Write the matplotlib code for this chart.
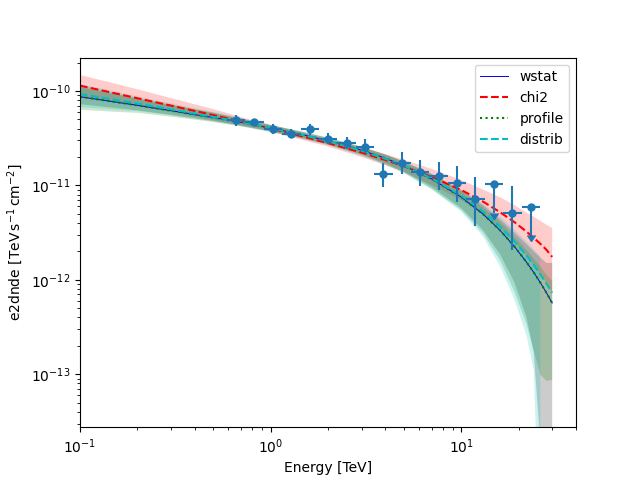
import numpy as np
import matplotlib
matplotlib.use("Agg")
import matplotlib.pyplot as plt

# ---- flux points ----
e_ref = [0.659, 0.823, 1.028, 1.285, 1.605, 2.004, 2.503, 3.127, 3.906, 4.879,
         6.095, 7.613, 9.51, 11.88, 14.84, 18.54, 23.15]
e_min = [0.590, 0.736, 0.920, 1.150, 1.436, 1.793, 2.240, 2.798, 3.495, 4.366,
         5.454, 6.812, 8.509, 10.63, 13.28, 16.59, 20.71]
e_max = [0.737, 0.920, 1.149, 1.436, 1.794, 2.240, 2.797, 3.495, 4.365, 5.453,
         6.812, 8.508, 10.63, 13.28, 16.59, 20.72, 25.87]
flux = [4.93e-11, 4.65e-11, 3.96e-11, 3.51e-11, 3.93e-11, 3.12e-11, 2.79e-11,
        2.53e-11, 1.31e-11, 1.71e-11, 1.40e-11, 1.27e-11, 1.05e-11, 7.14e-12,
        1.03e-11, 5.06e-12, 5.94e-12]
flux_hi = [5.57e-11, 5.05e-11, 4.44e-11, 3.96e-11, 4.44e-11, 3.56e-11, 3.28e-11,
           3.08e-11, 1.71e-11, 2.28e-11, 1.86e-11, 1.76e-11, 1.62e-11, 1.24e-11,
           1.03e-11, 9.86e-12, 5.94e-12]
flux_lo = [4.28e-11, 4.28e-11, 3.47e-11, 3.18e-11, 3.42e-11, 2.72e-11, 2.41e-11,
           2.19e-11, 9.68e-12, 1.31e-11, 9.93e-12, 8.93e-12, 6.62e-12, 3.74e-12,
           5.15e-12, 2.07e-12, 2.97e-12]
is_ul = [False] * 14 + [True, False, True]

# ---- model curves ----
energy = [0.1, 0.15, 0.2, 0.3, 0.5, 0.7, 1, 1.5, 2, 3, 4, 5, 7, 10, 13, 16, 19,
          22, 24, 26, 28, 30]

wstat = [8.70e-11, 7.70e-11, 7.06e-11, 6.20e-11, 5.24e-11, 4.65e-11, 4.06e-11,
         3.41e-11, 2.97e-11, 2.36e-11, 1.94e-11, 1.62e-11, 1.17e-11, 7.53e-12,
         4.98e-12, 3.34e-12, 2.26e-12, 1.54e-12, 1.20e-12, 9.34e-13, 7.28e-13, 5.69e-13]
chi2 = [1.14e-10, 9.53e-11, 8.39e-11, 7.01e-11, 5.56e-11, 4.75e-11, 4.01e-11,
        3.27e-11, 2.81e-11, 2.23e-11, 1.86e-11, 1.60e-11, 1.23e-11, 8.94e-12,
        6.75e-12, 5.20e-12, 4.09e-12, 3.24e-12, 2.79e-12, 2.41e-12, 2.08e-12, 1.75e-12]
profile = [8.70e-11, 7.70e-11, 7.06e-11, 6.20e-11, 5.24e-11, 4.65e-11, 4.06e-11,
           3.41e-11, 2.97e-11, 2.36e-11, 1.94e-11, 1.62e-11, 1.17e-11, 7.53e-12,
           4.98e-12, 3.34e-12, 2.26e-12, 1.54e-12, 1.20e-12, 9.34e-13, 7.28e-13, 5.69e-13]
distrib = [9.29e-11, 8.12e-11, 7.37e-11, 6.40e-11, 5.33e-11, 4.69e-11, 4.06e-11,
           3.39e-11, 2.94e-11, 2.33e-11, 1.92e-11, 1.62e-11, 1.19e-11, 7.81e-12,
           5.31e-12, 3.67e-12, 2.56e-12, 1.81e-12, 1.44e-12, 1.14e-12, 9.14e-13, 7.30e-13]

# ---- error bands: upper = model * up, lower = model / down ----
nan = float("nan")
wstat_up = [1.267, 1.215, 1.172, 1.144, 1.116, 1.089, 1.076, 1.076, 1.076, 1.089, 1.097,
            1.102, 1.130, 1.186, 1.245, 1.308, 1.407, 1.551, 1.669, 1.840, 2.079, 2.653]
wstat_down = [1.201, 1.158, 1.130, 1.108, 1.089, 1.081, 1.076, 1.081, 1.089, 1.102, 1.130,
              1.158, 1.215, 1.308, 1.477, 1.796, 2.407, 3.824, 7.039, 50, 1e4, 1e4]
chi2_up = [1.298, 1.270, 1.245, 1.201, 1.158, 1.116, 1.089, 1.089, 1.089, 1.130, 1.152,
           1.172, 1.215, 1.276, 1.340, 1.442, 1.514, 1.589, 1.669, 1.753, 1.840, 2.029]
chi2_down = [1.308, 1.261, 1.215, 1.172, 1.130, 1.102, 1.089, 1.089, 1.089, 1.116, 1.135,
             1.158, 1.215, 1.276, 1.373, 1.477, 1.629, 1.796, 1.932, 2.079, 2.237, 2.407]
profile_up = [1.330, 1.245, 1.186, 1.158, 1.130, 1.102, 1.076, 1.076, 1.076, 1.089, 1.097,
              1.102, 1.116, 1.158, 1.186, 1.230, 1.276, 1.340, 1.407, 1.477, 1.551, 1.711]
profile_down = [1.373, 1.276, 1.201, 1.158, 1.116, 1.102, 1.089, 1.097, 1.102, 1.130, 1.158,
                1.186, 1.276, 1.373, 1.589, 2.079, 2.997, 4.538, 6.705, 9.432, 8.553, 6.543]
distrib_up = [1.276, 1.230, 1.186, 1.158, 1.130, 1.102, 1.076, 1.076, 1.076, 1.089, 1.097,
              1.102, 1.116, 1.158, 1.215, 1.276, 1.340, 1.407, 1.477, 1.551, nan, nan]
distrib_down = [1.373, 1.276, 1.201, 1.158, 1.116, 1.108, 1.102, 1.102, 1.102, 1.130, 1.163,
                1.201, 1.308, 1.477, 1.840, 2.653, 4.115, 7.039, 12.95, 1000, nan, nan]

fig, ax = plt.subplots(figsize=(6.4, 4.8), dpi=100)

models = [
    ("wstat", wstat, wstat_down, wstat_up, dict(color="blue", ls="-", lw=0.7), "black"),
    ("chi2", chi2, chi2_down, chi2_up, dict(color="red", ls="--", lw=1.5), "red"),
    ("profile", profile, profile_down, profile_up, dict(color="green", ls=":", lw=1.5), "green"),
    ("distrib", distrib, distrib_down, distrib_up, dict(color="c", ls="--", lw=1.5), "c"),
]

for label, y, down, up, style, fc in models:
    y = np.array(y)
    ax.fill_between(energy, y / np.array(down), y * np.array(up),
                    facecolor=fc, alpha=0.2, linewidth=0)

handles = []
for label, y, down, up, style, fc in models:
    h, = ax.plot(energy, y, label=label, **style)
    handles.append(h)

e_ref_a = np.array(e_ref)
flux_a = np.array(flux)
xerr = [e_ref_a - np.array(e_min), np.array(e_max) - e_ref_a]
yerr = [flux_a - np.array(flux_lo), np.array(flux_hi) - flux_a]
ax.errorbar(e_ref, flux, xerr=xerr, yerr=yerr, uplims=np.array(is_ul),
            fmt="o", color="#1f77b4", ms=5, elinewidth=1.5, zorder=4)

ax.set_xscale("log")
ax.set_yscale("log")
ax.set_xlim(0.1, 40)
ax.set_ylim(2.75e-14, 2.26e-10)
ax.set_xlabel("Energy [TeV]")
ax.set_ylabel(r"e2dnde [$\mathrm{TeV\,s^{-1}\,cm^{-2}}$]")
ax.legend(handles=handles, loc="upper right")

fig.savefig("out.png", dpi=100)
